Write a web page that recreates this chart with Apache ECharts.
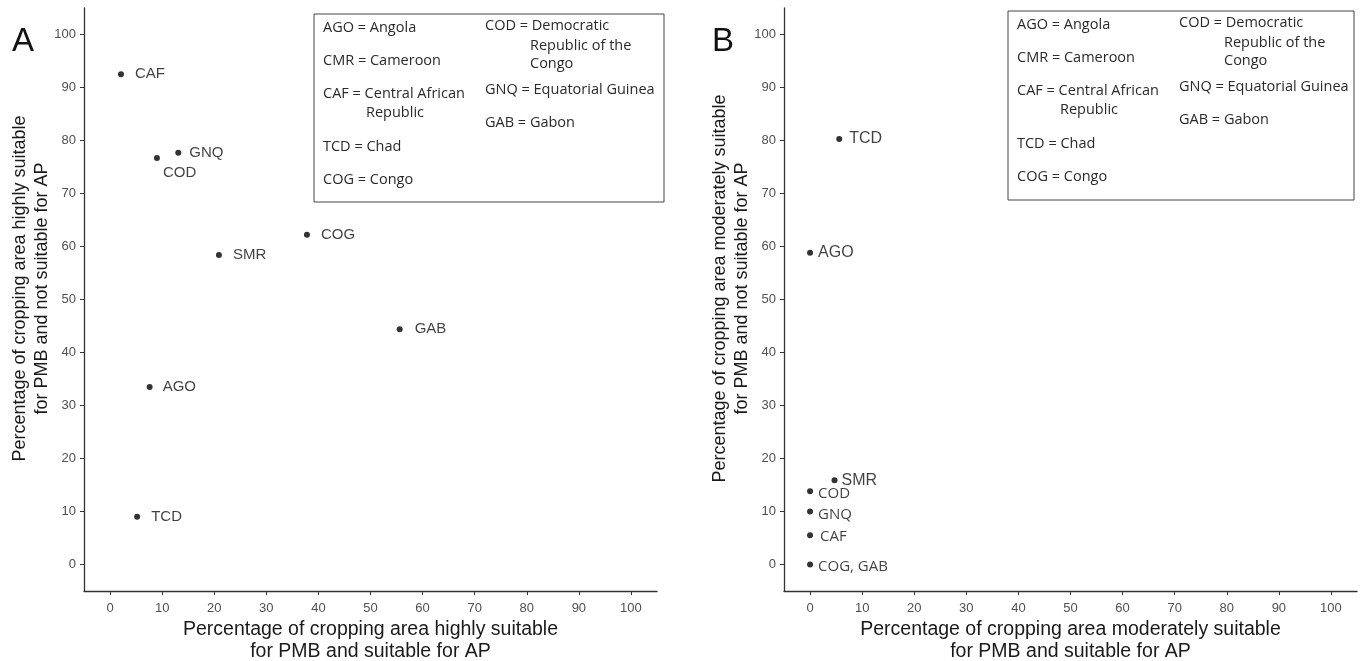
<!DOCTYPE html>
<html>
<head>
<meta charset="utf-8">
<title>PMB / AP suitability</title>
<script src="https://cdn.jsdelivr.net/npm/echarts@6/dist/echarts.min.js"></script>
<style>
  html, body { margin: 0; padding: 0; background: #fff; }
  #main { width: 1369px; height: 661px; }
</style>
</head>
<body>
<div id="main"></div>
<script>
// panel A: highly suitable
var codesA = ['CAF', 'COD', 'GNQ', 'SMR', 'COG', 'GAB', 'AGO', 'TCD'];
var xA = [2.1, 9.0, 13.1, 20.9, 37.8, 55.6, 7.6, 5.2];
var yA = [92.5, 76.7, 77.7, 58.4, 62.2, 44.4, 33.5, 9.0];

// panel B: moderately suitable
var codesB = ['TCD', 'AGO', 'SMR', 'COD', 'GNQ', 'CAF', 'COG, GAB'];
var xB = [5.6, 0, 4.7, 0, 0, 0, 0];
var yB = [80.3, 58.8, 15.9, 13.8, 10.0, 5.5, 0];

var tickValues = [0, 10, 20, 30, 40, 50, 60, 70, 80, 90, 100];

var legendCol1 = [['AGO = Angola'], ['CMR = Cameroon'], ['CAF = Central African', 'Republic'], ['TCD = Chad'], ['COG = Congo']];
var legendCol2 = [['COD = Democratic', 'Republic of the', 'Congo'], ['GNQ = Equatorial Guinea'], ['GAB = Gabon']];

var titleXA = 'Percentage of cropping area highly suitable\nfor PMB and suitable for AP';
var titleYA = 'Percentage of cropping area highly suitable\nfor PMB and not suitable for AP';
var titleXB = 'Percentage of cropping area moderately suitable\nfor PMB and suitable for AP';
var titleYB = 'Percentage of cropping area moderately suitable\nfor PMB and not suitable for AP';

// label tweaks per point (placement only)
var arial = 'Liberation Sans, Arial, sans-serif';
var calib = 'Open Sans, sans-serif';
var labA = {
  'CAF': { distance: 11 },
  'COD': { distance: 0, offset: [3, 15] },
  'GNQ': { distance: 8 },
  'SMR': { distance: 11 },
  'COG': { distance: 11 },
  'GAB': { distance: 12 },
  'AGO': { distance: 10 },
  'TCD': { distance: 11 }
};
var labB = {
  'TCD': { distance: 7, fontFamily: arial, fontSize: 16 },
  'AGO': { distance: 5, fontFamily: arial, fontSize: 16 },
  'SMR': { distance: 4, fontFamily: arial, fontSize: 16 },
  'COD': { distance: 5, fontFamily: calib, fontSize: 15, offset: [0, 2] },
  'GNQ': { distance: 5, fontFamily: calib, fontSize: 15, offset: [0, 3] },
  'CAF': { distance: 7, fontFamily: calib, fontSize: 15, offset: [0, 1] },
  'COG, GAB': { distance: 5, fontFamily: calib, fontSize: 15, offset: [0, 2] }
};

function points(codes, xs, ys, lab) {
  return codes.map(function (c, i) {
    return { name: c, value: [xs[i], ys[i]], label: lab[c] };
  });
}

function axisOpt(idx, name, isY) {
  return {
    gridIndex: idx, type: 'value', min: -5, max: 105,
    name: name, nameLocation: 'middle', nameGap: isY ? 31 : 28, nameRotate: isY ? 90 : 0,
    nameMoveOverlap: false,
    nameTextStyle: isY
      ? { fontFamily: arial, fontSize: 18, color: '#1a1a1a', lineHeight: 22, padding: [0, 0, 0, 22] }
      : { fontFamily: arial, fontSize: 19.5, color: '#1a1a1a', lineHeight: 22 },
    axisLine: { onZero: false, lineStyle: { color: '#333', width: 1.3 } },
    axisTick: { customValues: tickValues, length: 4, lineStyle: { color: '#333' } },
    axisLabel: { customValues: tickValues, margin: isY ? 8 : 11, fontFamily: arial, fontSize: 13, color: '#505050' },
    splitLine: { show: false }
  };
}

function legendBox(left, top, w, h) {
  var els = [{
    type: 'rect', shape: { x: left, y: top, width: w, height: h },
    style: { fill: '#fff', stroke: '#444', lineWidth: 1 }
  }];
  var rows1 = [[14], [47], [80, 99], [133], [166]];
  var rows2 = [[12, 32, 50], [76], [109]];
  var txt = function (x, y, s) {
    els.push({ type: 'text', x: x, y: y,
      style: { text: s, fontFamily: calib, fontSize: 14.5, fill: '#2a2a2a', verticalAlign: 'middle' } });
  };
  legendCol1.forEach(function (lines, i) {
    lines.forEach(function (s, j) { txt(left + (j ? 52 : 9), top + rows1[i][j], s); });
  });
  legendCol2.forEach(function (lines, i) {
    lines.forEach(function (s, j) { txt(left + (j ? 216 : 171), top + rows2[i][j], s); });
  });
  return els;
}

var chart = echarts.init(document.getElementById('main'), null, { renderer: 'canvas' });

var seriesBase = {
  type: 'scatter', symbol: 'circle', symbolSize: 6,
  itemStyle: { color: '#000' },
  label: { show: true, position: 'right', formatter: '{b}', color: '#111', fontFamily: arial, fontSize: 15 },
  emphasis: { disabled: true }
};

chart.setOption({
  backgroundColor: '#fff',
  animation: false,
  grid: [
    { left: 84, right: 712, top: 8, bottom: 70, outerBoundsMode: 'none' },
    { left: 784, right: 12, top: 8, bottom: 70, outerBoundsMode: 'none' }
  ],
  xAxis: [axisOpt(0, titleXA, false), axisOpt(1, titleXB, false)],
  yAxis: [axisOpt(0, titleYA, true), axisOpt(1, titleYB, true)],
  series: [
    Object.assign({}, seriesBase, { xAxisIndex: 0, yAxisIndex: 0, data: points(codesA, xA, yA, labA) }),
    Object.assign({}, seriesBase, { xAxisIndex: 1, yAxisIndex: 1, data: points(codesB, xB, yB, labB) })
  ],
  graphic: [
    { type: 'text', x: 12, y: 42, style: { text: 'A', fontFamily: arial, fontSize: 33, fill: '#111', verticalAlign: 'middle' } },
    { type: 'text', x: 712, y: 42, style: { text: 'B', fontFamily: arial, fontSize: 33, fill: '#111', verticalAlign: 'middle' } }
  ].concat(legendBox(314, 14, 350, 188), legendBox(1008, 11, 346, 189))
});
</script>
</body>
</html>
